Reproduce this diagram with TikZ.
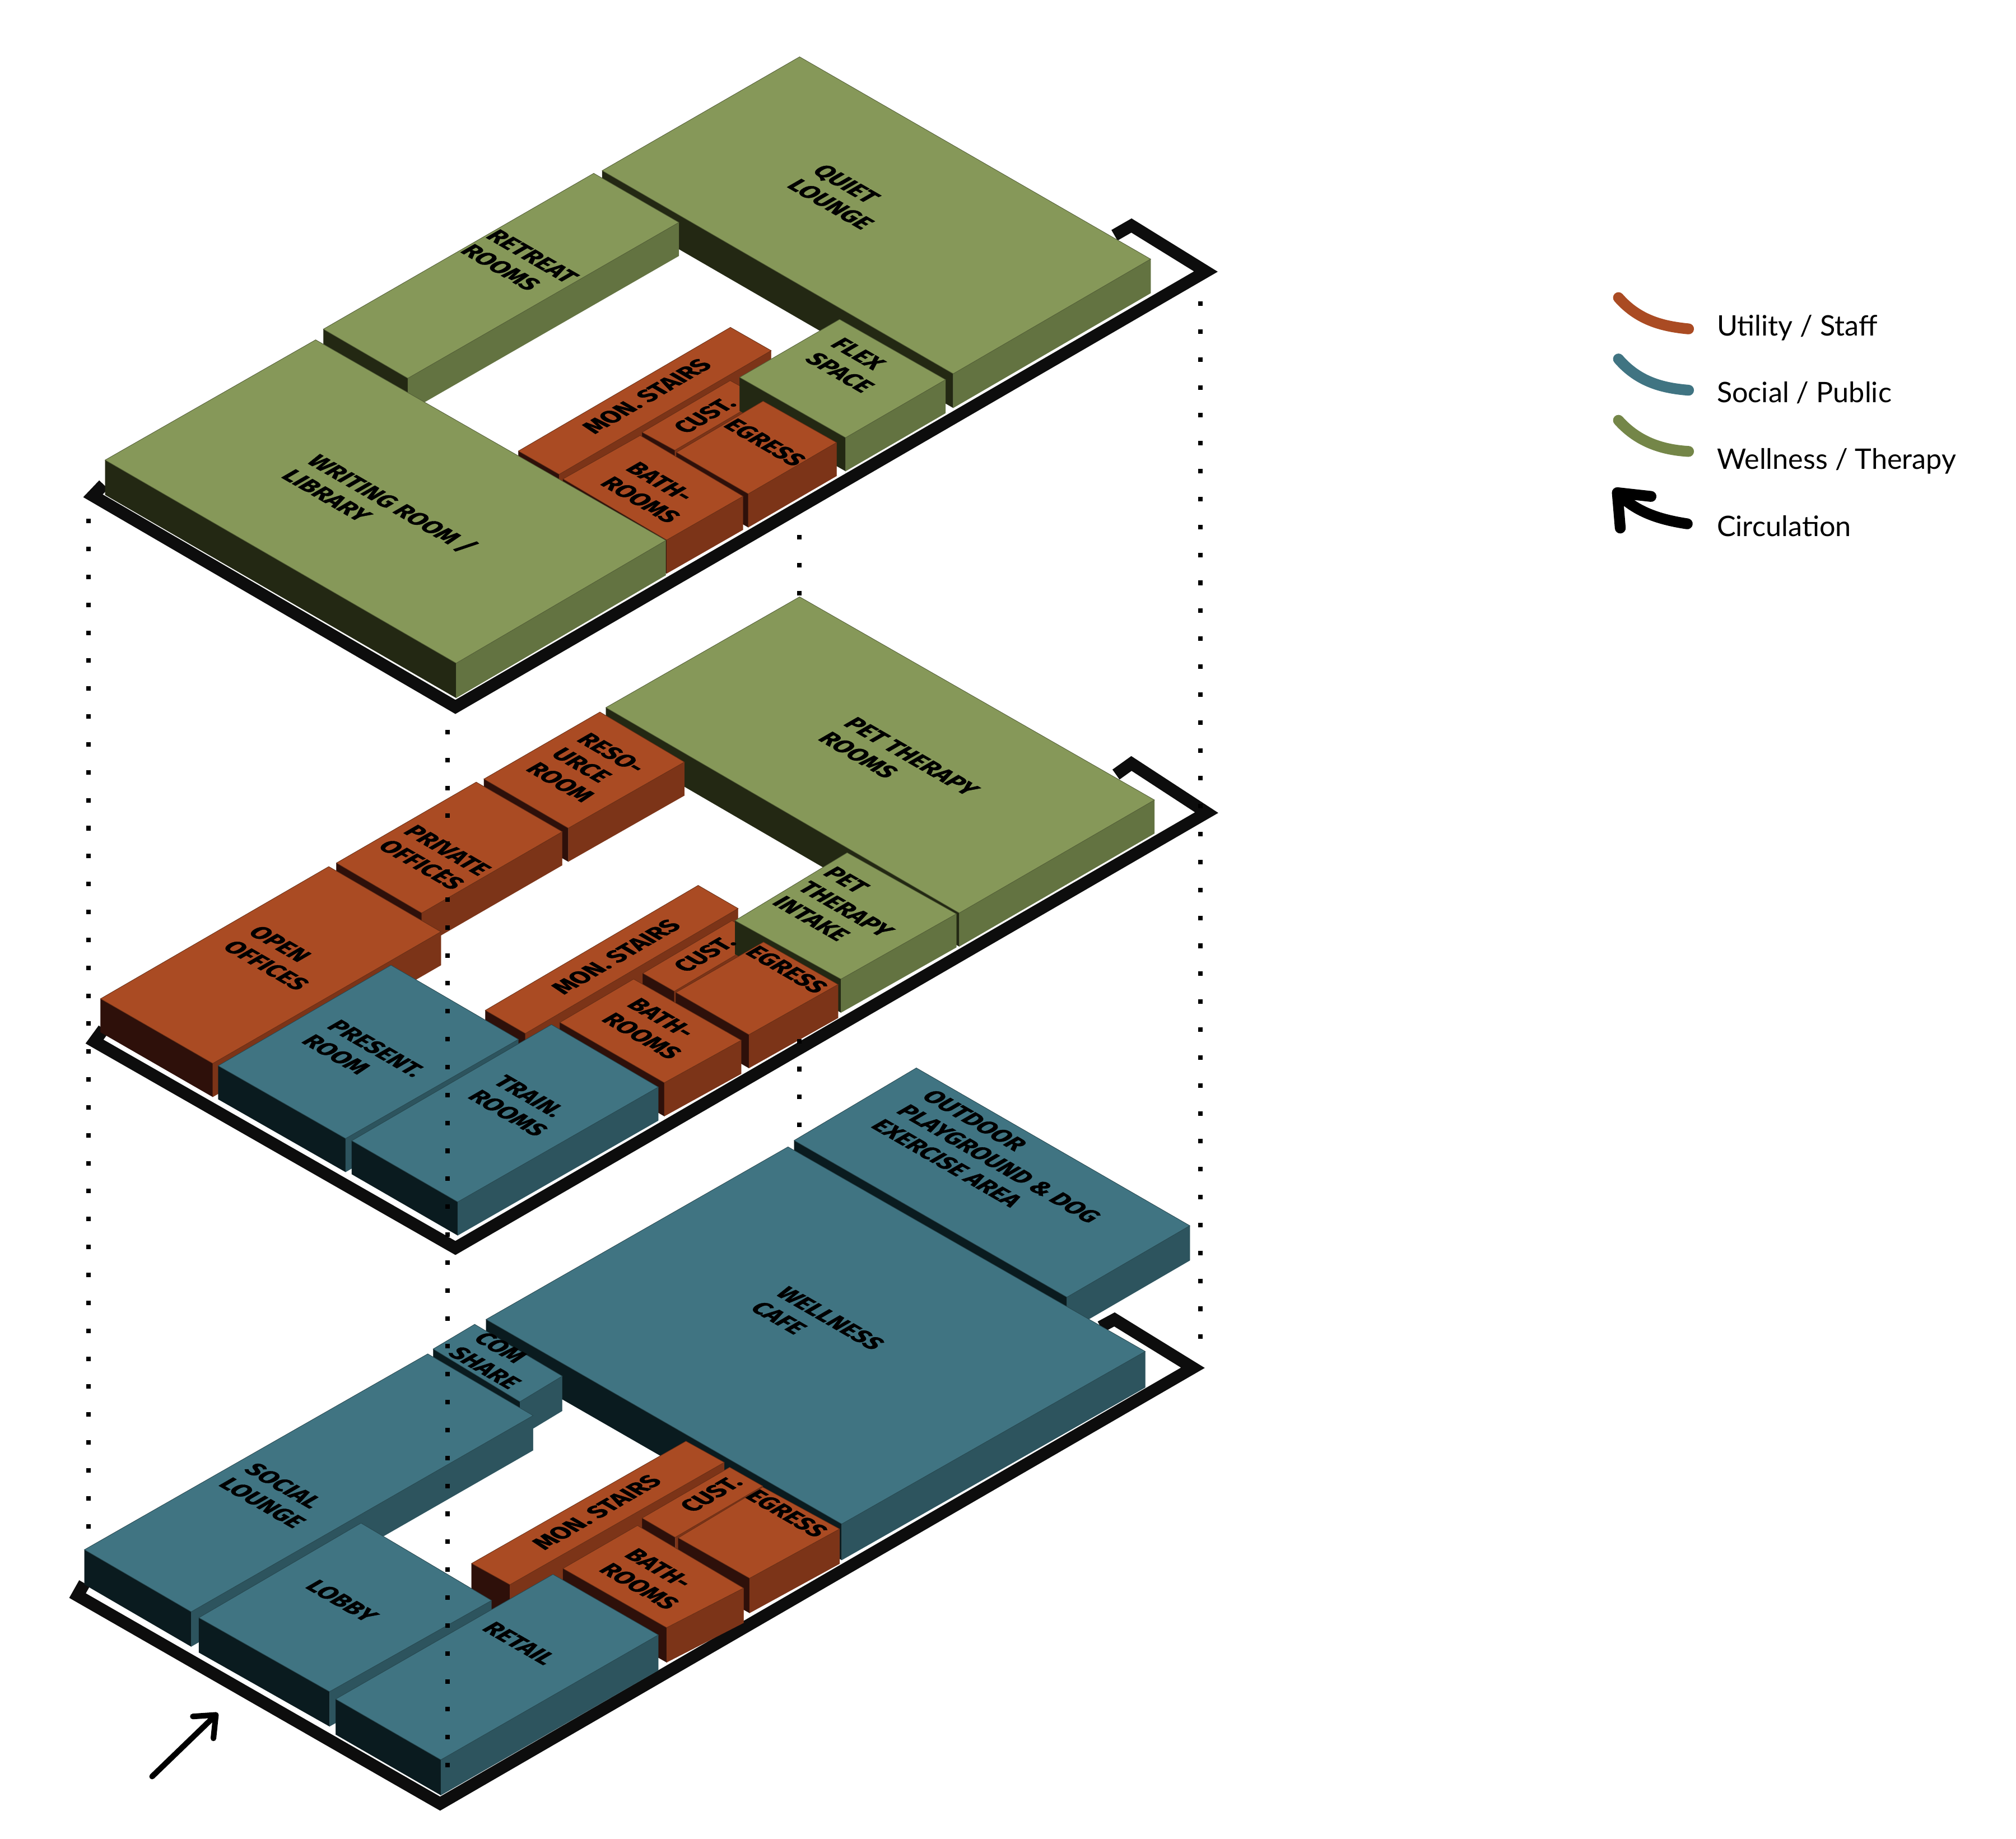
\documentclass[tikz,border=0pt]{standalone}
\usepackage{fontspec}
\usepackage{xcolor}
\setmainfont{Lato}
\newfontfamily\roomfont[BoldFeatures={FakeBold=1.2}]{Fira Sans}

\definecolor{wellnesstop}{HTML}{869859}
\definecolor{wellnessright}{HTML}{637341}
\definecolor{wellnessleft}{HTML}{232813}
\definecolor{socialtop}{HTML}{407482}
\definecolor{socialright}{HTML}{2D545E}
\definecolor{socialleft}{HTML}{0A1B1F}
\definecolor{utilitytop}{HTML}{AA4B23}
\definecolor{utilityright}{HTML}{7C3418}
\definecolor{utilityleft}{HTML}{2E100A}
\definecolor{wellnesskey}{HTML}{748648}

\tikzset{
    downtext/.style={transform shape, inner sep=0pt, align=left, font=\roomfont\bfseries\fontsize{10.6}{13}\selectfont},
    uptext/.style={transform shape, inner sep=0pt, align=left, font=\roomfont\bfseries\fontsize{10.6}{13}\selectfont},
    keytext/.style={anchor=base west, inner sep=0pt, font=\fontsize{12.5}{15}\selectfont},
    keyline/.style={line width=4.8pt, line cap=round},
    baseline/.style={line width=5.4pt, line join=miter, black!95},
    dotline/.style={line width=2pt, dash pattern=on 2pt off 10.36pt},
}

% #1 colour set, then the top face: left, back, right, front, then the height
\newcommand{\roombox}[6]{
    \filldraw[#1left, line width=.1pt] (#2) -- (#5) -- ([shift={(0,#6)}]#5) -- ([shift={(0,#6)}]#2) -- cycle;
    \filldraw[#1right, line width=.1pt] (#5) -- (#4) -- ([shift={(0,#6)}]#4) -- ([shift={(0,#6)}]#5) -- cycle;
    \filldraw[fill=#1top, draw=#1top!60!black, line width=.2pt] (#2) -- (#3) -- (#4) -- (#5) -- cycle;
}
\newcommand{\downlabel}[4]{
    \node[downtext, cm={.866,-.5,.866,.5,(#2,#3)}] (#1) {#4};
}
\newcommand{\uplabel}[4]{
    \node[uptext, cm={.866,.5,-.866,.5,(#2,#3)}] (#1) {#4};
}

\begin{document}
\begin{tikzpicture}[x=.02cm, y=-.02cm]
    \useasboundingbox (0,0) rectangle (1568,1430);
    \fill[white] (0,0) rectangle (1568,1430);

    % top floor
    \draw[baseline] (80.6,376.9) -- (72.3,385.6) -- (354.2,549.8) -- (937.9,211.2) -- (880,175.4) -- (866.8,183);
    \roombox{wellness}{468.4,132.7}{621.9,44.2}{894.9,201.5}{741.4,290.7}{26.5}
    \roombox{wellness}{251.5,256}{461.8,134.8}{528,173}{317.2,294.2}{26}
    \roombox{utility}{403.2,350.8}{568.1,254.6}{599.8,272.7}{434.9,368.9}{26}
    \roombox{utility}{499.4,336.2}{567.9,296}{593.4,310}{524.9,350.2}{26}
    \roombox{wellness}{575.3,293.5}{653,248.4}{735.4,295.3}{657.7,340.4}{26}
    \roombox{utility}{526.1,351.8}{593.5,312}{650.6,344.2}{582,384.1}{26}
    \roombox{utility}{437.9,372.5}{497.9,338.7}{577.9,386}{518.5,420}{26}
    \roombox{wellness}{81.8,357.8}{245.5,264.3}{517.9,420.3}{354.8,515.8}{27}
    \downlabel{quiet}{656}{153}{QUIET\\LOUNGE}
    \downlabel{retreat}{404}{205}{RETREAT\\ROOMS}
    \downlabel{writing}{296}{397}{WRITING ROOM /\\LIBRARY}
    \uplabel{stairsA}{503}{308}{MON. STAIRS}
    \uplabel{custA}{548}{323}{CUST.}
    \downlabel{egressA}{595}{344}{EGRESS}
    \downlabel{bathA}{508}{383}{BATH-\\ROOMS}
    \downlabel{flex}{663}{284}{FLEX\\SPACE}

    % middle floor
    \draw[baseline] (80.6,800.4) -- (73.5,810.1) -- (354.2,970.6) -- (938.5,632) -- (880,593.8) -- (868,602.4);
    \roombox{wellness}{471.3,550.3}{621.9,464.2}{897.9,622.2}{746.1,710.1}{26}
    \roombox{utility}{376.4,605.9}{466.6,553.8}{532.3,592.7}{442,644.1}{26}
    \roombox{utility}{261.7,671.2}{370.4,608.3}{437.3,646.9}{328,710.1}{26}
    \roombox{utility}{78.2,776.8}{255.7,674}{342.9,724.7}{165.5,827.1}{26}
    \roombox{utility}{377.5,785.8}{543,688.6}{574.1,706.6}{408.6,803.8}{26}
    \roombox{utility}{500,757}{569.3,716}{593.8,729.9}{524.5,771}{26}
    \roombox{wellness}{571.7,716}{658.9,663.2}{743.8,710.8}{654.1,761.5}{26}
    \roombox{utility}{525.7,771.9}{593.8,732.7}{651.8,765.7}{582.5,804.7}{26}
    \roombox{utility}{435.5,795.2}{492.8,761.5}{576.5,809.1}{516.7,842.1}{26}
    \roombox{social}{169.7,828.9}{304.1,750.7}{403.2,808.4}{268.8,885.5}{26}
    \roombox{social}{273.6,887.2}{428.9,796.9}{512,845.5}{356,934.8}{26}
    \downlabel{pet}{699}{594}{PET THERAPY\\ROOMS}
    \downlabel{resource}{456}{597}{RESO-\\URCE\\ROOM}
    \downlabel{private}{338}{667}{PRIVATE\\OFFICES}
    \downlabel{open}{217}{745}{OPEN\\OFFICES}
    \uplabel{stairsB}{479}{744}{MON. STAIRS}
    \uplabel{custB}{548}{742}{CUST.}
    \downlabel{egressB}{612}{754}{EGRESS}
    \downlabel{bathB}{509}{800}{BATH-\\ROOMS}
    \downlabel{intake}{658}{707}{PET\\THERAPY\\INTAKE}
    \downlabel{present}{283}{821}{PRESENT.\\ROOM}
    \downlabel{train}{405}{860}{TRAIN.\\ROOMS}

    % ground floor
    \draw[baseline] (65.7,1231.4) -- (60.3,1241) -- (342.3,1402.8) -- (927.8,1063.8) -- (866.8,1026.2) -- (856,1032);
    \roombox{social}{617.7,887}{712.7,830.6}{925.4,953.3}{829.8,1008.9}{27}
    \roombox{social}{378.1,1026.2}{612.9,892}{890.7,1051.1}{654.7,1185.3}{28}
    \roombox{social}{336.9,1049.2}{369.2,1030}{437.3,1070.3}{404.4,1090.2}{27}
    \roombox{social}{65.7,1205.3}{332.7,1053}{414.6,1101}{148.7,1253.6}{27}
    \roombox{utility}{366.8,1216}{533.5,1120.9}{563.3,1137.4}{396.6,1232.5}{27}
    \roombox{utility}{499.4,1180.7}{567.5,1141.2}{593.2,1155.8}{525.1,1195.7}{27}
    \roombox{utility}{527.5,1196.1}{593.2,1156.6}{653,1189.2}{583,1227.5}{27}
    \roombox{utility}{437.9,1219.9}{495.8,1186.5}{578.3,1235.2}{518.5,1265.9}{27}
    \roombox{social}{154.7,1258.2}{280.8,1184.6}{382.3,1244.8}{256.3,1315.7}{27}
    \roombox{social}{261.1,1321.5}{430.1,1224.5}{512,1271.6}{342.9,1368.7}{27.5}
    \downlabel{outdoor}{777}{905}{OUTDOOR\\PLAYGROUND \& DOG\\EXERCISE AREA}
    \downlabel{cafe}{636}{1031}{WELLNESS\\CAFE}
    \downlabel{share}{387}{1058}{COM\\SHARE}
    \downlabel{social}{214}{1163}{SOCIAL\\LOUNGE}
    \downlabel{lobby}{266}{1245}{LOBBY}
    \downlabel{retail}{404}{1278}{RETAIL}
    \uplabel{stairsC}{464}{1176}{MON. STAIRS}
    \uplabel{custC}{553}{1162}{CUST.}
    \downlabel{egressC}{612}{1177}{EGRESS}
    \downlabel{bathC}{507}{1228}{BATH-\\ROOMS}

    \draw[dotline] (68.7,403.5) -- (68.7,1195);
    \draw[dotline] (348,567.6) -- (348,1380);
    \draw[dotline] (621.9,416) -- (621.9,464);
    \draw[dotline] (621.9,808) -- (621.9,878);
    \draw[dotline] (933.7,234.4) -- (933.7,1046);

    \draw[line width=2.5pt, line cap=round, line join=round] (118.3,1381.7) -- (167.9,1333.8) (150,1335) -- (167.9,1333.8) -- (166,1352);

    % key
    \draw[keyline, utilitytop] (1258.8,231.5) .. controls (1275,250) and (1295,254) .. (1313.3,255.8);
    \draw[keyline, socialtop] (1258.8,279.2) .. controls (1275,298) and (1295,302) .. (1313.3,303.5);
    \draw[keyline, wellnesskey] (1258.8,326.9) .. controls (1275,345) and (1295,350) .. (1313.3,351.1);
    \draw[keyline, line join=round, black] (1312.3,407.4) .. controls (1290,404) and (1272,398) .. (1257.9,383.2) (1284.1,386.1) -- (1257.9,383.2) -- (1260.2,410.7);
    \node[keytext] (utility) at (1335,261) {Utility / Staff};
    \node[keytext] (public) at (1335,313) {Social / Public};
    \node[keytext] (therapy) at (1335,365) {Wellness / Therapy};
    \node[keytext] (circulation) at (1335,417) {Circulation};
\end{tikzpicture}
\end{document}
